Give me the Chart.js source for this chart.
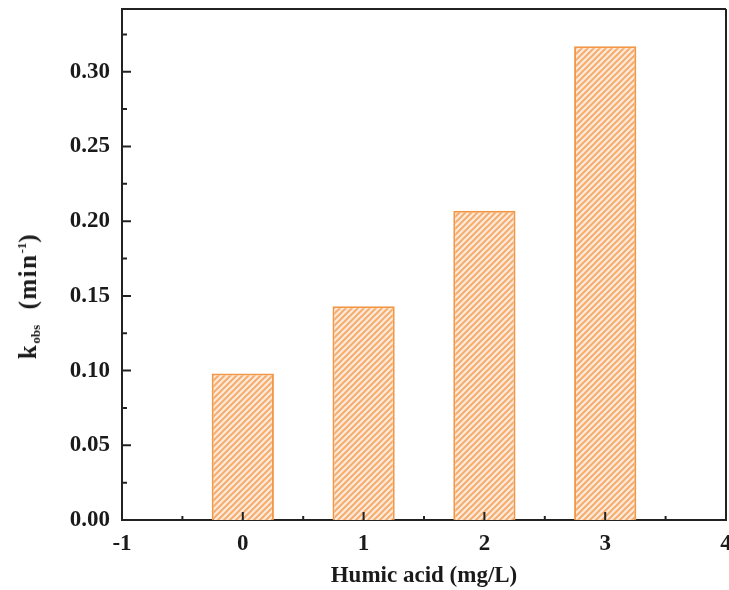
<!DOCTYPE html>
<html>
<head>
<meta charset="utf-8">
<script src="https://cdn.jsdelivr.net/npm/chart.js@4"></script>
<style>
  html, body { margin: 0; padding: 0; background: #fff; }
  #wrap { position: relative; width: 729px; height: 590px; }
  #yTitle {
    position: absolute; left: 29px; top: 296px;
    transform: translate(-50%, -50%) rotate(-90deg);
    font: bold 25px "Liberation Serif", "Times New Roman", serif;
    letter-spacing: 1.5px;
    color: #1a1a1a; white-space: nowrap;
  }
  #yTitle sub { font-size: 13px; vertical-align: -4px; letter-spacing: 0; }
  #yTitle sup { font-size: 13px; vertical-align: 10px; letter-spacing: 0; }
</style>
</head>
<body>
<div id="wrap">
  <canvas id="chart" width="729" height="590"></canvas>
  <div id="yTitle">k<sub>obs</sub>&nbsp; (min<sup>-1</sup>)</div>
</div>
<script>
// Data
const humicAcid = [0, 1, 2, 3];                 // mg/L
const kObs = [0.098, 0.143, 0.207, 0.317];      // min^-1
const xMajorTicks = [-1, 0, 1, 2, 3, 4];
const xMinorTicks = [-0.5, 0.5, 1.5, 2.5, 3.5];
const yMajorTicks = [0, 0.05, 0.10, 0.15, 0.20, 0.25, 0.30];
const yMinorTicks = [0.025, 0.075, 0.125, 0.175, 0.225, 0.275, 0.325];

const axisColor = '#222';
const barEdge = '#f29746';

// Diagonal hatch pattern for the bars
function makeHatch() {
    const size = 6;
    const c = document.createElement('canvas');
    c.width = size; c.height = size;
    const g = c.getContext('2d');
    g.fillStyle = '#fdeadb';
    g.fillRect(0, 0, size, size);
    g.strokeStyle = '#f5ad6e';
    g.lineWidth = 2;
    g.beginPath();
    g.moveTo(0, size); g.lineTo(size, 0);
    g.moveTo(-size / 2, size / 2); g.lineTo(size / 2, -size / 2);
    g.moveTo(size / 2, size * 1.5); g.lineTo(size * 1.5, size / 2);
    g.stroke();
    return g.createPattern(c, 'repeat');
}

// Frame on top/right plus inward tick marks
const frameTicks = {
    id: 'frameTicks',
    afterDraw(chart) {
        const { ctx, chartArea: a, scales: { x, y } } = chart;
        ctx.save();
        ctx.strokeStyle = axisColor;
        ctx.lineWidth = 2;
        ctx.beginPath();
        ctx.moveTo(a.left, a.top); ctx.lineTo(a.right, a.top);
        ctx.moveTo(a.right, a.top); ctx.lineTo(a.right, a.bottom);
        ctx.stroke();

        ctx.beginPath();
        xMajorTicks.forEach(v => {
            const px = x.getPixelForValue(v);
            ctx.moveTo(px, a.bottom); ctx.lineTo(px, a.bottom - 8);
        });
        xMinorTicks.forEach(v => {
            const px = x.getPixelForValue(v);
            ctx.moveTo(px, a.bottom); ctx.lineTo(px, a.bottom - 4);
        });
        yMajorTicks.forEach(v => {
            const py = y.getPixelForValue(v);
            ctx.moveTo(a.left, py); ctx.lineTo(a.left + 9, py);
        });
        yMinorTicks.forEach(v => {
            const py = y.getPixelForValue(v);
            ctx.moveTo(a.left, py); ctx.lineTo(a.left + 5, py);
        });
        ctx.stroke();
        ctx.restore();
    }
};

const tickFont = { family: '"Liberation Serif", "Times New Roman", serif', size: 23, weight: 'bold' };

new Chart(document.getElementById('chart').getContext('2d'), {
    type: 'bar',
    data: {
        datasets: [{
            data: humicAcid.map((h, i) => ({ x: h, y: kObs[i] })),
            backgroundColor: makeHatch(),
            borderColor: barEdge,
            borderWidth: 2,
            barPercentage: 0.515,
            categoryPercentage: 1
        }]
    },
    options: {
        responsive: false,
        animation: false,
        layout: { padding: { top: 9, right: 3, left: 0, bottom: 0 } },
        plugins: { legend: { display: false }, tooltip: { enabled: false } },
        scales: {
            x: {
                type: 'linear',
                min: -1, max: 4,
                offset: false,
                grid: { display: false, drawTicks: false },
                border: { display: true, color: axisColor, width: 2 },
                ticks: { stepSize: 1, padding: 10, color: '#1a1a1a', font: tickFont, maxRotation: 0 },
                title: {
                    display: true, text: 'Humic acid (mg/L)', color: '#1a1a1a',
                    font: tickFont, padding: { top: 0, bottom: 0 }
                },
                afterFit(s) { s.height = 70; s.paddingLeft = 0; s.paddingRight = 0; }
            },
            y: {
                min: 0, max: 0.342,
                grid: { display: false, drawTicks: false },
                border: { display: true, color: axisColor, width: 2 },
                ticks: {
                    stepSize: 0.05, padding: 12, color: '#1a1a1a', font: tickFont,
                    callback: v => {
                        const r = Math.round(v / 0.05);
                        return Math.abs(v / 0.05 - r) < 1e-6 ? (r * 0.05).toFixed(2) : '';
                    }
                },
                afterFit(s) { s.width = 122; s.paddingTop = 0; s.paddingBottom = 0; }
            }
        }
    },
    plugins: [frameTicks]
});
</script>
</body>
</html>
